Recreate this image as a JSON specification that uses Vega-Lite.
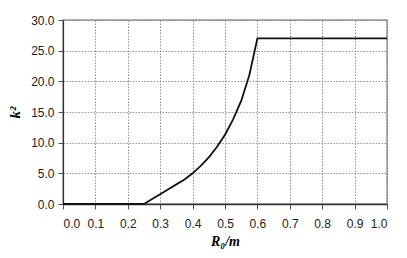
{
  "$schema": "https://vega.github.io/schema/vega-lite/v6.json",
  "width": 324,
  "height": 184,
  "autosize": {"type": "none"},
  "padding": {"left": 63, "top": 20, "right": 20, "bottom": 54},
  "background": "white",
  "config": {
    "view": {"stroke": "#999999", "strokeWidth": 1.5},
    "axis": {
      "labelFont": "Liberation Sans",
      "labelFontSize": 12,
      "labelColor": "#222222",
      "gridColor": "#777777",
      "gridDash": [1.5, 1.5],
      "gridWidth": 1,
      "gridOpacity": 0.8,
      "domainColor": "#333333",
      "tickColor": "#555555",
      "tickSize": 5
    }
  },
  "data": {
    "values": [
      {"x": 0.0, "y": 0.0},
      {"x": 0.25, "y": 0.0},
      {"x": 0.275, "y": 0.8},
      {"x": 0.3, "y": 1.6},
      {"x": 0.325, "y": 2.4},
      {"x": 0.35, "y": 3.2},
      {"x": 0.375, "y": 4.0},
      {"x": 0.4, "y": 5.0},
      {"x": 0.425, "y": 6.2},
      {"x": 0.45, "y": 7.6},
      {"x": 0.475, "y": 9.3},
      {"x": 0.5, "y": 11.3},
      {"x": 0.525, "y": 13.8},
      {"x": 0.55, "y": 16.8},
      {"x": 0.575, "y": 21.0},
      {"x": 0.6, "y": 27.0},
      {"x": 1.0, "y": 27.0}
    ]
  },
  "mark": {"type": "line", "color": "#111111", "strokeWidth": 1.8, "clip": false},
  "encoding": {
    "x": {
      "field": "x",
      "type": "quantitative",
      "scale": {"domain": [0, 1], "nice": false},
      "axis": {
        "values": [0, 0.1, 0.2, 0.3, 0.4, 0.5, 0.6, 0.7, 0.8, 0.9, 1.0],
        "format": ".1f",
        "labelPadding": 9,
        "title": "R₀/m",
        "titleFont": "Liberation Serif",
        "titleFontStyle": "italic",
        "titleFontWeight": "bold",
        "titleFontSize": 14,
        "titlePadding": 5,
        "domainWidth": 1.5
      }
    },
    "y": {
      "field": "y",
      "type": "quantitative",
      "scale": {"domain": [0, 30], "nice": false},
      "axis": {
        "values": [0, 5, 10, 15, 20, 25, 30],
        "format": ".1f",
        "labelPadding": 4,
        "title": "k²",
        "titleFont": "Liberation Serif",
        "titleFontStyle": "italic",
        "titleFontWeight": "bold",
        "titleFontSize": 15,
        "titlePadding": 8,
        "domainWidth": 1.2
      }
    }
  }
}
